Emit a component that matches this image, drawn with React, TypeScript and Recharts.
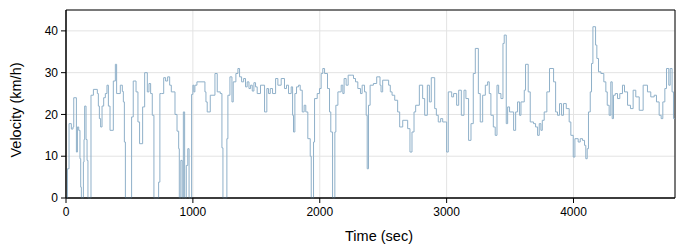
import React from 'react';
import {
  LineChart,
  Line,
  XAxis,
  YAxis,
  CartesianGrid,
  ReferenceArea,
  Label,
} from 'recharts';

// sample times (sec) and velocities (km/h)
const times = [
  0, 11, 24, 42, 55, 61, 82, 90, 100, 110, 116, 121, 137, 142, 147, 158, 166, 173,
  197, 216, 247, 255, 263, 273, 284, 297, 310, 323, 334, 347, 373, 389, 399, 428,
  444, 452, 460, 468, 517, 530, 552, 567, 580, 604, 620, 641, 654, 667, 680, 693,
  730, 740, 751, 770, 785, 801, 817, 830, 859, 875, 888, 893, 905, 916, 925, 935,
  948, 960, 970, 990, 1000, 1008, 1016, 1032, 1095, 1103, 1113, 1137, 1174, 1192,
  1216, 1229, 1237, 1263, 1268, 1276, 1292, 1308, 1318, 1339, 1355, 1368, 1384,
  1400, 1415, 1428, 1442, 1455, 1468, 1481, 1494, 1507, 1533, 1565, 1583, 1596,
  1610, 1628, 1652, 1670, 1696, 1722, 1738, 1754, 1775, 1786, 1793, 1804, 1817,
  1833, 1846, 1862, 1877, 1890, 1906, 1925, 1933, 1946, 1951, 1959, 1980, 1998,
  2011, 2024, 2038, 2061, 2077, 2087, 2101, 2114, 2119, 2127, 2143, 2169, 2182,
  2192, 2208, 2224, 2253, 2266, 2282, 2300, 2321, 2334, 2353, 2366, 2374, 2384,
  2397, 2423, 2449, 2475, 2483, 2496, 2543, 2556, 2570, 2591, 2614, 2630, 2654,
  2680, 2693, 2711, 2727, 2743, 2756, 2785, 2811, 2827, 2848, 2864, 2879, 2906,
  2919, 2934, 2953, 2969, 2990, 3000, 3013, 3040, 3055, 3079, 3095, 3116, 3137,
  3152, 3173, 3192, 3210, 3226, 3250, 3265, 3284, 3305, 3323, 3336, 3349, 3368,
  3383, 3397, 3410, 3428, 3444, 3454, 3470, 3481, 3496, 3528, 3544, 3559, 3575,
  3586, 3612, 3622, 3643, 3659, 3685, 3701, 3717, 3730, 3743, 3754, 3769, 3790,
  3811, 3843, 3859, 3874, 3890, 3906, 3921, 3943, 3966, 3979, 3998, 4011, 4037,
  4053, 4071, 4087, 4097, 4108, 4118, 4132, 4142, 4153, 4174, 4184, 4197, 4216,
  4239, 4255, 4266, 4281, 4294, 4305, 4315, 4329, 4347, 4365, 4386, 4402, 4426,
  4449, 4470, 4491, 4518, 4549, 4583, 4609, 4636, 4654, 4675, 4691, 4704, 4720,
  4733, 4751, 4762, 4777, 4788, 4798,
];

const velocity = [
  0, 7, 17.8, 16.5, 17, 24, 11, 17, 16.2, 9.4, 2.6, 0, 8.6, 14, 22, 14, 9, 0,
  24.6, 26, 25, 22, 19, 17, 22, 24, 25, 27, 22, 16.2, 28, 32, 25, 27,
  25.5, 23, 13.4, 0, 19.4, 28, 25.4, 18.2, 13, 21.8, 30, 25.4, 27.4, 25, 19.8, 0,
  3.8, 25, 25, 28.8, 28, 29, 27, 25.4, 20, 16, 11.8, 0, 9, 0, 20.6, 0,
  7.8, 11.8, 0, 24.8, 27, 25.4, 27, 27.8, 25.4, 23, 20.6, 24.6, 29.8, 25.4,
  25, 12, 0, 0, 14.2, 24.6, 29, 23, 27.8, 29.8, 31, 29, 27.8,
  28.6, 26.6, 27.8, 26.2, 27, 25.6, 27.6, 26.6, 25, 27, 20.6, 26.2, 25,
  26.2, 25, 28.6, 27, 28.6, 26.2, 27, 25, 26.6, 19.8, 15.8, 25, 26.6,
  27, 25.8, 20.6, 22.2, 20.6, 14.2, 10, 0, 0, 13.4, 23.8, 25, 26.2,
  29.8, 31, 29.8, 26.2, 20.6, 15.8, 0, 0, 15.8, 22.2, 25.4, 27, 25,
  28.6, 27, 29.4, 29.4, 28.6, 27.8, 26.2, 25, 27, 25.4, 19.8, 7, 22.2,
  27, 27.4, 29, 27, 25.4, 28.2, 27, 25.4, 24.6, 23.4, 20.6, 17, 18.6,
  18.6, 16.6, 11, 15.8, 20.6, 22.2, 27, 23.8, 19.8, 27, 23, 28.8, 21.4,
  19.8, 18.2, 19, 18.2, 18.2, 11, 25.4, 24.2, 25, 22.2, 25.8, 19.8, 25.8,
  23.8, 13.8, 17.8, 29.8, 35.8, 25, 18.2, 24.6, 27, 27.8, 25, 19.8, 17,
  15, 27, 25, 23.8, 37, 39, 17.8, 21.8, 20.6, 16.2, 20.6, 23, 19.8,
  23, 25.8, 32, 25.4, 18.2, 17.8, 17, 15, 17.8, 16.2, 18.6, 20.6, 25.4,
  31, 27.8, 20.6, 19.8, 22.6, 19.8, 22.6, 21.4, 18.2, 15, 9.8, 14.2, 13.4,
  14.2, 13.8, 12.6, 9.4, 11.8, 20.6, 25.4, 32.2, 41, 36.6, 33.4, 30.2, 29.8,
  27.8, 25.4, 22.2, 19.8, 27.8, 19, 24.6, 25, 23.8, 25, 27, 25.4, 22.2,
  21.4, 25.8, 24.2, 21, 27, 25.4, 24.2, 24.6, 23, 19.8, 19, 23, 26.2,
  31, 27, 31, 25.4, 19, 19,
];

const xTicks = [0, 1000, 2000, 3000, 4000];
const yTicks = [0, 10, 20, 30, 40];

const data = times.map((t, i) => ({ time: t, velocity: velocity[i] }));

const font = 'Liberation Sans, Arial, sans-serif';

const App: React.FC = () => {
  const tickStyle = { fill: '#000', fontSize: 12, fontFamily: font };
  return (
    <div style={{ position: 'absolute', left: 0, top: 0, width: 700, height: 250, background: '#fff' }}>
      <LineChart
        width={700}
        height={250}
        data={data}
        margin={{ top: 10, right: 25, bottom: 0, left: 0 }}
      >
        <CartesianGrid stroke="#e3e3e3" />
        <XAxis
          dataKey="time"
          type="number"
          domain={[0, 4800]}
          ticks={xTicks}
          allowDataOverflow
          height={52}
          tick={tickStyle}
          tickSize={5}
          tickMargin={4}
          stroke="#000"
        >
          <Label
            content={() => (
              <text x={379} y={236} textAnchor="middle" dominantBaseline="central"
                fill="#000" fontSize={14.5} fontFamily={font}>
                Time (sec)
              </text>
            )}
          />
        </XAxis>
        <YAxis
          type="number"
          domain={[0, 45]}
          ticks={yTicks}
          width={66}
          tick={tickStyle}
          tickSize={5}
          tickMargin={3}
          stroke="#000"
        >
          <Label
            content={() => (
              <text x={16} y={110} transform="rotate(-90 16 110)" textAnchor="middle"
                dominantBaseline="central" fill="#000" fontSize={14.5} fontFamily={font}>
                Velocity (km/h)
              </text>
            )}
          />
        </YAxis>
        <ReferenceArea x1={0} x2={4800} y1={0} y2={45} fill="none" fillOpacity={0} stroke="#000" strokeWidth={1} />
        <Line
          type="stepAfter"
          dataKey="velocity"
          stroke="#8fb0c9"
          strokeWidth={1}
          dot={false}
          isAnimationActive={false}
        />
      </LineChart>
    </div>
  );
};

export default App;
